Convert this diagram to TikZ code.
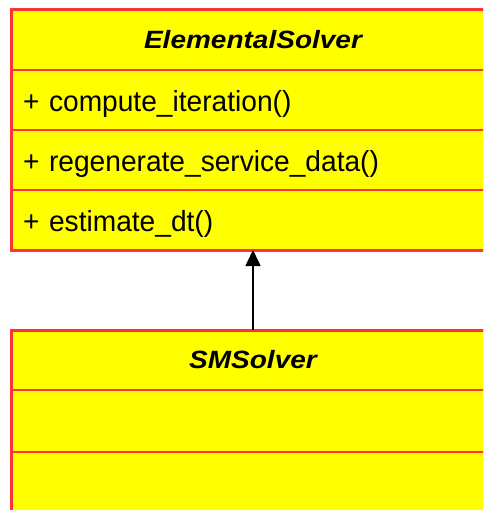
\documentclass[tikz,border=0pt]{standalone}
\usepackage{fontspec}
\setmainfont[FakeStretch=0.97]{Liberation Sans}
\newfontfamily\headfont[FakeStretch=1.12]{Liberation Sans}
\usetikzlibrary{arrows.meta, positioning}
\definecolor{boxfill}{HTML}{FFFF00}
\definecolor{boxline}{HTML}{FF3333}

\begin{document}
\begin{tikzpicture}[x=1pt,y=1pt,node distance=0pt,
 part/.style={rectangle,draw=boxline,fill=boxfill,line width=2pt,
  minimum width=484pt,minimum height=60pt,inner sep=0pt,outer sep=0pt},
 head/.style={part,font=\headfont\fontsize{25}{29}\selectfont\bfseries\itshape},
 member/.style={part,font=\fontsize{29}{33}\selectfont,
  inner xsep=12pt,text width=460pt,align=left,text height=26pt,text depth=2pt},
 frame/.style={draw=boxline,line width=3pt}]
  \useasboundingbox (0,0) rectangle (483,-510);
  \clip (0,0) rectangle (483,-510);

  % parent class
  \node[head,anchor=north] (elsolver) at (253,-10) {ElementalSolver};
  \node[member,below=of elsolver] (compute) {+ compute\_iteration()};
  \node[member,below=of compute] (regen) {+ regenerate\_service\_data()};
  \node[member,below=of regen] (estimate) {+ estimate\_dt()};
  \path[frame] (elsolver.north west) rectangle (estimate.south east);

  % child class
  \node[head,anchor=north] (smsolver) at (253,-330) {SMSolver};
  \node[member,below=of smsolver,minimum height=62pt] (smfields) {};
  \node[member,below=of smfields,minimum height=70pt] (smmethods) {};
  \path[frame] (smsolver.north west) rectangle (smmethods.south east);

  \draw[line width=1.6pt,-{Triangle[length=16pt,width=15pt]}]
   (smsolver.north) -- (estimate.south);
\end{tikzpicture}
\end{document}
